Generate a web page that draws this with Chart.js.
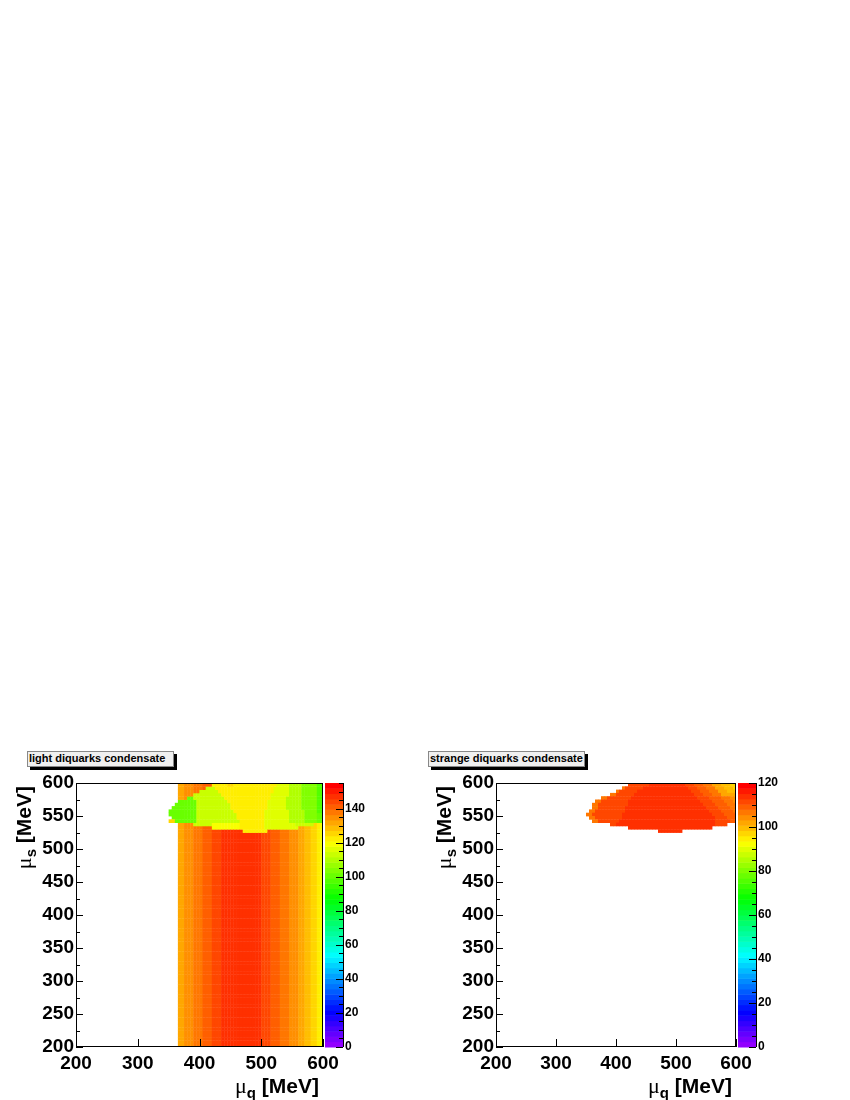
<!DOCTYPE html>
<html>
<head>
<meta charset="utf-8">
<title>light / strange diquarks condensate</title>
<script src="https://cdn.jsdelivr.net/npm/chart.js@4.4.0/dist/chart.umd.min.js"></script>
<style>
    body { margin: 0; background: #fff; width: 850px; height: 1100px; position: relative; overflow: hidden; }
    canvas { position: absolute; top: 740px; }
    #lightChart { left: 0; }
    #strangeChart { left: 425px; }
    .histTitle {
        position: absolute; top: 751px; height: 14px; line-height: 14px; padding-left: 1px;
        background: #f0f0f0; border: 1px solid #888; box-shadow: 3px 3px 0 #000;
        font: bold 11px 'Liberation Sans', Arial, sans-serif; color: #000; white-space: nowrap;
    }
</style>
</head>
<body>
<div class="histTitle" style="left:27px; width:144px;">light diquarks condensate</div>
<div class="histTitle" style="left:428px; width:154px;">strange diquarks condensate</div>
<canvas id="lightChart" width="425" height="360"></canvas>
<canvas id="strangeChart" width="425" height="360"></canvas>

<script>
// Datos (bins de 5 MeV)
const binWidth = 5;

const muQTicks = [200, 300, 400, 500, 600];
const muSTicks = [200, 250, 300, 350, 400, 450, 500, 550, 600];
const lightZTicks = [0, 20, 40, 60, 80, 100, 120, 140];
const strangeZTicks = [0, 20, 40, 60, 80, 100, 120];
const lightZMax = 155;
const strangeZMax = 120;

// Fase inferior (2SC): el condensado ligero solo depende de mu_q
const light2SCColumns = [365, 370, 375, 380, 385, 390, 395, 400, 405, 410, 415, 420, 425, 430, 435, 440,
    445, 450, 455, 460, 465, 470, 475, 480, 485, 490, 495, 500, 505, 510, 515, 520, 525, 530, 535, 540,
    545, 550, 555, 560, 565, 570, 575, 580, 585, 590, 595];
const light2SCValues = [131, 133, 134, 135, 136, 137, 138, 139, 140, 141, 142, 143, 144, 145, 146, 147,
    147, 148, 148, 148, 148, 148, 147, 147, 147, 146, 146, 145, 144, 143, 142, 141, 140, 139, 138, 137,
    136, 135, 134, 133, 131, 129, 128, 126, 124, 122, 119];

// Fase superior: filas de mu_s con tramos [mu_q desde, mu_q hasta, valor]
const blobRows = [595, 590, 585, 580, 575, 570, 565, 560, 555, 550, 545, 540, 535, 530, 525];

const lightBlobSegments = [
    [[420, 445, 122], [445, 455, 127], [455, 525, 122], [525, 545, 116], [545, 565, 110], [565, 590, 104], [590, 600, 98]],
    [[410, 425, 114], [425, 520, 122], [520, 545, 116], [545, 565, 110], [565, 590, 104], [590, 600, 98]],
    [[400, 430, 114], [430, 520, 122], [520, 545, 116], [545, 565, 110], [565, 590, 104], [590, 600, 98]],
    [[390, 435, 114], [435, 515, 122], [515, 545, 116], [545, 565, 110], [565, 590, 104], [590, 600, 98]],
    [[380, 390, 101], [390, 440, 114], [440, 515, 122], [515, 540, 116], [540, 565, 110], [565, 590, 104], [590, 600, 98]],
    [[365, 395, 101], [395, 445, 114], [445, 510, 122], [510, 540, 116], [540, 565, 110], [565, 590, 104], [590, 600, 98]],
    [[360, 395, 101], [395, 450, 114], [450, 510, 122], [510, 540, 116], [540, 565, 110], [565, 590, 104], [590, 600, 98]],
    [[355, 395, 101], [395, 450, 114], [450, 510, 122], [510, 540, 116], [540, 565, 110], [565, 590, 104], [590, 600, 99]],
    [[350, 395, 101], [395, 455, 114], [455, 505, 122], [505, 545, 116], [545, 570, 110], [570, 590, 104], [590, 600, 99]],
    [[350, 395, 102], [395, 460, 114], [460, 505, 122], [505, 545, 116], [545, 570, 111], [570, 590, 105], [590, 600, 100]],
    [[355, 395, 102], [395, 460, 114], [460, 505, 122], [505, 545, 117], [545, 570, 111], [570, 590, 105], [590, 600, 100]],
    [[350, 360, 127], [360, 395, 102], [395, 465, 114], [465, 505, 122], [505, 545, 117], [545, 570, 111], [570, 590, 105], [590, 600, 100]],
    [[390, 420, 114], [420, 465, 119], [465, 505, 122], [505, 555, 117], [555, 585, 112]],
    [[420, 465, 119], [465, 505, 122], [505, 560, 117]],
    [[470, 510, 122]]
];

const strangeBlobSegments = [
    [[420, 455, 112], [455, 515, 115], [515, 530, 111], [530, 545, 109], [545, 560, 106], [560, 575, 103], [575, 590, 100], [590, 600, 97]],
    [[410, 415, 107], [415, 445, 111], [445, 520, 115], [520, 535, 111], [535, 550, 109], [550, 565, 106], [565, 580, 103], [580, 595, 100], [595, 600, 97]],
    [[400, 405, 107], [405, 435, 111], [435, 525, 115], [525, 540, 111], [540, 555, 109], [555, 570, 106], [570, 585, 103], [585, 600, 100]],
    [[390, 400, 107], [400, 430, 111], [430, 530, 115], [530, 545, 111], [545, 560, 109], [560, 575, 106], [575, 590, 103], [590, 600, 101]],
    [[375, 385, 107], [385, 425, 111], [425, 535, 115], [535, 555, 111], [555, 575, 109], [575, 590, 106], [590, 600, 104]],
    [[365, 375, 107], [375, 420, 111], [420, 540, 115], [540, 560, 111], [560, 580, 109], [580, 595, 106], [595, 600, 104]],
    [[360, 370, 107], [370, 420, 111], [420, 545, 115], [545, 565, 111], [565, 585, 109], [585, 600, 106]],
    [[360, 370, 107], [370, 415, 111], [415, 550, 115], [550, 570, 111], [570, 590, 109], [590, 600, 106]],
    [[355, 365, 107], [365, 415, 111], [415, 555, 115], [555, 575, 111], [575, 595, 109], [595, 600, 107]],
    [[350, 360, 107], [360, 410, 111], [410, 560, 115], [560, 580, 111], [580, 600, 109]],
    [[355, 365, 107], [365, 410, 111], [410, 565, 115], [565, 585, 111], [585, 600, 109]],
    [[360, 370, 107], [370, 405, 111], [405, 565, 115], [565, 590, 111], [590, 600, 109]],
    [[390, 400, 111], [400, 565, 115], [565, 585, 111]],
    [[420, 560, 115]],
    [[470, 510, 115]]
];

const fontFamily = "'Liberation Sans', Arial, sans-serif";

// Paleta "pretty" de ROOT: 50 colores de violeta a rojo
function paletteColor(index) {
    const hue = 280 - (index + 1) * 5.6;
    return `hsl(${hue}, 100%, 50%)`;
}

function colorForValue(v, zMax) {
    const index = Math.max(0, Math.min(49, Math.floor(v / zMax * 50)));
    return paletteColor(index);
}

// Construcción de celdas a partir de los arrays
function addSegments(grid, segments) {
    segments.forEach((row, r) => {
        const s = blobRows[r];
        row.forEach(([q0, q1, v]) => {
            for (let q = q0; q < q1; q += binWidth) {
                grid.set(q + ':' + s, { x: q + binWidth / 2, y: s + binWidth / 2, v: v });
            }
        });
    });
}

function buildLightCells() {
    const grid = new Map();
    light2SCColumns.forEach((q, i) => {
        for (let s = 200; s < 600; s += binWidth) {
            grid.set(q + ':' + s, { x: q + binWidth / 2, y: s + binWidth / 2, v: light2SCValues[i] });
        }
    });
    addSegments(grid, lightBlobSegments);
    return Array.from(grid.values());
}

function buildStrangeCells() {
    const grid = new Map();
    addSegments(grid, strangeBlobSegments);
    return Array.from(grid.values());
}

// Título de eje tipo ROOT: mu con subíndice y "[MeV]"
function drawMuTitle(ctx, sub, x, y, angle) {
    ctx.save();
    ctx.translate(x, y);
    ctx.rotate(angle);
    ctx.fillStyle = '#000';
    ctx.textBaseline = 'alphabetic';
    ctx.textAlign = 'left';
    const muFont = "22px 'Liberation Serif', serif";
    const subFont = 'bold 15px ' + fontFamily;
    const unitFont = 'bold 21px ' + fontFamily;
    ctx.font = muFont; const wMu = ctx.measureText('\u03bc').width;
    ctx.font = subFont; const wSub = ctx.measureText(sub).width;
    ctx.font = unitFont; const wUnit = ctx.measureText(' [MeV]').width;
    let cx = -(wMu + wSub + wUnit);
    ctx.font = muFont; ctx.fillText('\u03bc', cx, 0); cx += wMu;
    ctx.font = subFont; ctx.fillText(sub, cx, 5); cx += wSub;
    ctx.font = unitFont; ctx.fillText(' [MeV]', cx, 0);
    ctx.restore();
}

const rootStyle = {
    id: 'rootStyle',
    beforeDatasetsDraw(chart, args, opts) {
        const { ctx, chartArea, scales: { x, y } } = chart;
        ctx.save();
        ctx.beginPath();
        ctx.rect(chartArea.left, chartArea.top, chartArea.width, chartArea.height);
        ctx.clip();
        chart.data.datasets[0].data.forEach(c => {
            const x0 = x.getPixelForValue(c.x - binWidth / 2);
            const x1 = x.getPixelForValue(c.x + binWidth / 2);
            const y0 = y.getPixelForValue(c.y + binWidth / 2);
            const y1 = y.getPixelForValue(c.y - binWidth / 2);
            ctx.fillStyle = colorForValue(c.v, opts.zMax);
            ctx.fillRect(x0, y0, x1 - x0 + 0.4, y1 - y0 + 0.4);
        });
        ctx.restore();
    },
    afterDraw(chart, args, opts) {
        const { ctx, chartArea, scales: { x, y, z } } = chart;
        ctx.save();
        ctx.strokeStyle = '#000';
        ctx.lineWidth = 1;

        // Marco
        ctx.strokeRect(Math.round(chartArea.left) + 0.5, Math.round(chartArea.top) + 0.5,
            Math.round(chartArea.width) - 1, Math.round(chartArea.height) - 1);

        // Marcas hacia dentro
        ctx.beginPath();
        muQTicks.forEach(v => {
            const px = Math.round(x.getPixelForValue(v)) + 0.5;
            ctx.moveTo(px, chartArea.bottom);
            ctx.lineTo(px, chartArea.bottom - 8);
        });
        muSTicks.forEach((v, i) => {
            const py = Math.round(y.getPixelForValue(v)) + 0.5;
            ctx.moveTo(chartArea.left, py);
            ctx.lineTo(chartArea.left + 7, py);
            if (i > 0) {
                const pm = Math.round(y.getPixelForValue(v - 25)) + 0.5;
                ctx.moveTo(chartArea.left, pm);
                ctx.lineTo(chartArea.left + 4, pm);
            }
        });
        ctx.stroke();

        // Paleta de colores
        const pLeft = z.left + 2;
        const pRight = z.left + 20;
        for (let i = 0; i < 50; i++) {
            const yb = z.getPixelForValue(i * opts.zMax / 50);
            const yt = z.getPixelForValue((i + 1) * opts.zMax / 50);
            ctx.fillStyle = paletteColor(i);
            ctx.fillRect(pLeft, yt, pRight - pLeft, yb - yt + 0.5);
        }
        ctx.beginPath();
        ctx.moveTo(pRight + 0.5, z.top);
        ctx.lineTo(pRight + 0.5, z.bottom);
        for (let v = 0; v <= opts.zMax; v += 5) {
            const py = Math.round(z.getPixelForValue(v)) + 0.5;
            const len = v % 20 === 0 ? 7 : 4;
            ctx.moveTo(pRight, py);
            ctx.lineTo(pRight - len, py);
        }
        ctx.stroke();

        // Títulos de ejes
        drawMuTitle(ctx, 'q', chartArea.right - 4, 353, 0);
        drawMuTitle(ctx, 's', chartArea.left - 45, chartArea.top + 3, -Math.PI / 2);
        ctx.restore();
    }
};

function tickAxis(values) {
    return scale => { scale.ticks = values.map(v => ({ value: v })); };
}

function makeHeatmap(canvasId, cells, zMax, zTicks, yWidth, zWidth) {
    const tickFont = { family: fontFamily, size: 19, weight: 'bold' };
    return new Chart(document.getElementById(canvasId), {
        type: 'scatter',
        data: {
            datasets: [{
                data: cells,
                pointRadius: 0,
                pointHoverRadius: 0,
                xAxisID: 'x',
                yAxisID: 'y'
            }]
        },
        options: {
            responsive: false,
            animation: false,
            events: [],
            layout: { padding: { top: 43, left: 0, right: 0, bottom: 0 } },
            plugins: {
                legend: { display: false },
                tooltip: { enabled: false },
                rootStyle: { zMax: zMax }
            },
            scales: {
                x: {
                    type: 'linear', min: 200, max: 600,
                    afterBuildTicks: tickAxis(muQTicks),
                    ticks: { font: tickFont, color: '#000', padding: 5, autoSkip: false, maxRotation: 0 },
                    grid: { display: false, drawTicks: false },
                    border: { display: false },
                    afterFit: s => { s.height = 53; }
                },
                y: {
                    type: 'linear', min: 200, max: 600,
                    afterBuildTicks: tickAxis(muSTicks),
                    ticks: { font: tickFont, color: '#000', padding: 2, autoSkip: false },
                    grid: { display: false, drawTicks: false },
                    border: { display: false },
                    afterFit: s => { s.width = yWidth; }
                },
                z: {
                    type: 'linear', position: 'right', min: 0, max: zMax,
                    afterBuildTicks: tickAxis(zTicks),
                    ticks: { font: { family: fontFamily, size: 12, weight: 'bold' }, color: '#000', padding: 22, autoSkip: false },
                    grid: { display: false, drawTicks: false },
                    border: { display: false },
                    afterFit: s => { s.width = zWidth; }
                }
            }
        },
        plugins: [rootStyle]
    });
}

function init() {
    Chart.defaults.font.family = fontFamily;
    makeHeatmap('lightChart', buildLightCells(), lightZMax, lightZTicks, 76, 102);
    makeHeatmap('strangeChart', buildStrangeCells(), strangeZMax, strangeZTicks, 71, 114);
}

document.addEventListener('DOMContentLoaded', init);
</script>
</body>
</html>
